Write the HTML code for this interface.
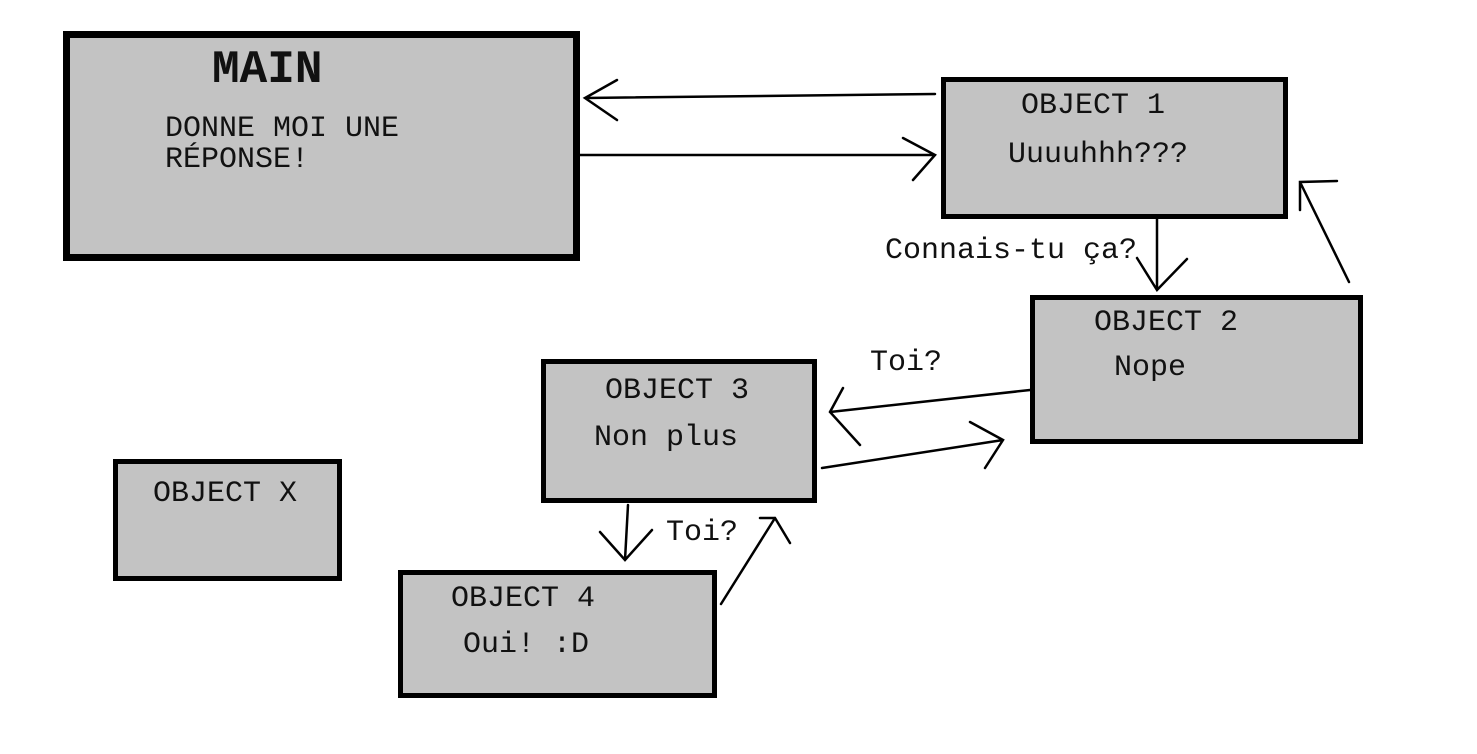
<!DOCTYPE html>
<html><head><meta charset="utf-8"><style>
html,body{margin:0;padding:0;background:#fff;}
svg{display:block;}
text{font-family:"Liberation Mono","DejaVu Sans Mono",monospace;font-size:30px;fill:#111;}
</style></head><body>
<svg width="1477" height="754" viewBox="0 0 1477 754" xmlns="http://www.w3.org/2000/svg">
<g fill="#c3c3c3" stroke="#000">
<rect x="66.5" y="34.5" width="510" height="223" stroke-width="7"/>
<rect x="943.5" y="79.5" width="342" height="137" stroke-width="5"/>
<rect x="1032.5" y="297.5" width="328" height="144" stroke-width="5"/>
<rect x="543.5" y="361.5" width="271" height="139" stroke-width="5"/>
<rect x="115.5" y="461.5" width="224" height="117" stroke-width="5"/>
<rect x="400.5" y="572.5" width="314" height="123" stroke-width="5"/>
</g>
<g stroke="#000" stroke-width="2.5" fill="none" stroke-linecap="round">
<path d="M935 94 L585 98 M617 80 L585 98 L617 120"/>
<path d="M580 155 L935 155 M903 138 L935 155 L913 180"/>
<path d="M1157 219 L1157 290 M1137 258 L1157 290 L1187 259"/>
<path d="M1349 282 L1300 182 M1337 181 L1300 182 L1300 210"/>
<path d="M1030 390 L830 412 M843 388 L830 412 L860 445"/>
<path d="M822 468 L1003 440 M970 422 L1003 440 L985 468"/>
<path d="M628 505 L625 560 M600 532 L625 560 L652 530"/>
<path d="M721 604 L775 518 M760 518 L775 518 L790 543"/>
</g>
<text x="212" y="82" style="font-size:46px;font-weight:bold">MAIN</text>
<text x="165" y="136">DONNE MOI UNE</text>
<text x="165" y="167">RÉPONSE!</text>
<text x="1021" y="113">OBJECT 1</text>
<text x="1008" y="162">Uuuuhhh???</text>
<text x="885" y="258">Connais-tu ça?</text>
<text x="1094" y="330">OBJECT 2</text>
<text x="1114" y="375">Nope</text>
<text x="870" y="370">Toi?</text>
<text x="605" y="398">OBJECT 3</text>
<text x="594" y="445">Non plus</text>
<text x="153" y="501">OBJECT X</text>
<text x="666" y="540">Toi?</text>
<text x="451" y="606">OBJECT 4</text>
<text x="463" y="652">Oui! :D</text>
</svg>
</body></html>
